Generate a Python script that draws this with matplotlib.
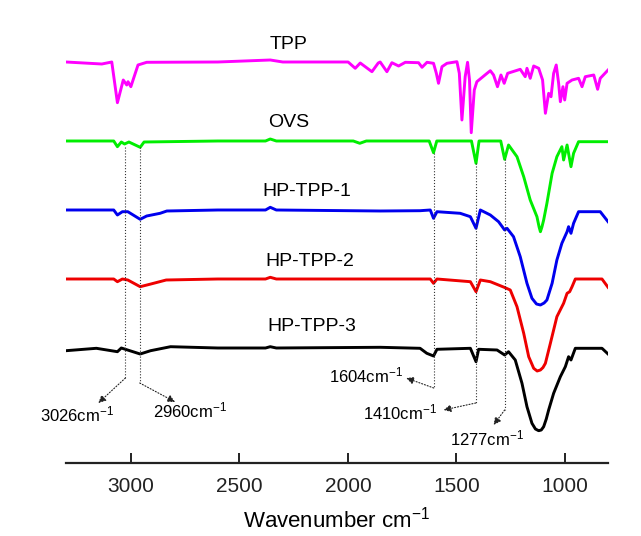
import numpy as np
import matplotlib.pyplot as plt

plt.rcParams['font.family'] = ['Liberation Sans', 'DejaVu Sans']
plt.rcParams['mathtext.fontset'] = 'custom'
plt.rcParams['mathtext.rm'] = 'Liberation Sans'
plt.rcParams['mathtext.it'] = 'Liberation Sans:italic'

# spectra (wavenumber, offset transmittance in a.u.)
tpp_w = [3300, 3135, 3089, 3063, 3036, 3020, 3014, 3001, 2968, 2928, 2600, 2358, 2300,
         1999, 1966, 1943, 1920, 1889, 1860, 1851, 1820, 1797, 1766, 1735, 1674, 1658,
         1635, 1605, 1592, 1582, 1566, 1543, 1497, 1486, 1474, 1459, 1448, 1439, 1431,
         1417, 1405, 1358, 1343, 1328, 1310, 1294, 1279, 1263, 1205, 1182, 1174, 1159,
         1143, 1120, 1102, 1089, 1074, 1063, 1051, 1039, 1028, 1020, 1008, 1000, 989,
         966, 936, 920, 905, 866, 848, 836, 800]
tpp_t = [401, 399, 401, 360.3, 383, 378, 381.3, 376.3, 398, 400.7, 401, 403, 401,
         401, 394.7, 400, 396.3, 391.3, 400, 401, 391.3, 400.3, 397, 400.7, 400.3, 395.7,
         400.7, 399.7, 389.7, 379.7, 396.3, 399.7, 401.3, 389.7, 343, 386.3, 400.7, 383, 330.3,
         373, 381.3, 389.7, 392.3, 388, 376.3, 388, 379.7, 389.7, 393.7, 386.3, 394.7, 384.7,
         397, 394.7, 383, 349.7, 369.7, 366.3, 389.7, 398, 379.7, 361.3, 376.3, 363, 379.7,
         383, 384.7, 376.3, 386.3, 388, 373.7, 384.7, 393]

ovs_w = [3300, 3080, 3063, 3045, 3030, 3010, 2958, 2940, 2600, 2380, 2358, 2330, 1975,
         1945, 1915, 1625, 1605, 1590, 1430, 1409, 1395, 1295, 1277, 1259, 1220, 1189,
         1159, 1128, 1118, 1112, 1105, 1097, 1082, 1058, 1036, 1013, 1005, 989, 971, 959,
         936, 800]
ovs_t = [322, 322, 316.3, 321, 319, 321, 315.7, 321, 322, 322, 324, 322, 322,
         319.7, 322, 322, 310.3, 322, 322, 299.7, 322, 322, 303.7, 318, 306.3, 286.3,
         263, 246.3, 236, 231.3, 236, 243, 259.7, 289.7, 306.3, 316.3, 303, 318, 296.3, 309.7,
         321.3, 321.3]

hp1_w = [3300, 3080, 3063, 3040, 3015, 2958, 2928, 2866, 2835, 2600, 2380, 2358, 2330,
         1850, 1667, 1620, 1605, 1589, 1482, 1435, 1409, 1389, 1343, 1305, 1277, 1266,
         1236, 1205, 1174, 1151, 1130, 1112, 1095, 1082, 1058, 1036, 1013, 989, 982, 971,
         959, 936, 836, 800]
hp1_t = [253, 253, 248, 251.3, 251.3, 243.7, 247, 249.7, 252, 253, 253, 255.7, 253,
         252, 252.3, 253, 244.7, 251.3, 249.7, 246.3, 234.7, 253, 248, 241.3, 233, 234.7,
         226.3, 206.3, 179.7, 164.7, 159, 158, 160, 163, 179.7, 203, 219.7, 231.3, 236.3, 229.7,
         239.7, 251.3, 251.3, 241.3]

hp2_w = [3300, 3080, 3063, 3040, 3015, 2958, 2914, 2838, 2600, 2380, 2358, 2330, 1620,
         1605, 1589, 1435, 1409, 1389, 1343, 1279, 1251, 1220, 1189, 1166, 1143, 1127,
         1112, 1100, 1089, 1066, 1036, 1005, 989, 977, 966, 951, 828, 800]
hp2_t = [184, 184, 181.3, 184, 183, 176.3, 178.7, 183, 184, 184, 185.7, 184, 184,
         179.7, 184, 181.3, 171.3, 183, 181.3, 175.7, 173, 156.3, 129.7, 106.3, 94.7, 92,
         93, 95.5, 99.7, 119.7, 146.3, 159.7, 169.7, 171.3, 176.3, 184, 184, 175.7]

hp3_w = [3300, 3160, 3063, 3045, 2958, 2910, 2818, 2600, 2380, 2358, 2330, 1850, 1667,
         1636, 1605, 1589, 1435, 1409, 1397, 1312, 1277, 1259, 1228, 1197, 1174, 1151,
         1135, 1120, 1108, 1097, 1085, 1074, 1051, 1020, 997, 982, 971, 951, 828, 800]
hp3_t = [112.3, 114.7, 111.3, 115, 109, 112.3, 116.3, 115, 115, 116.3, 115, 115.7, 114.7,
         109.7, 107, 113.7, 114.7, 101.3, 113.7, 113, 108, 111.3, 103, 79.7, 56.3, 39.7,
         34, 32.3, 33, 36.3, 44, 53, 69.7, 86.3, 96.3, 106.3, 103, 114.7, 114.7, 109]

names = ['TPP', 'OVS', 'HP-TPP-1', 'HP-TPP-2', 'HP-TPP-3']
colors = ['#ff00ff', '#00ee00', '#0000ee', '#ee0000', 'black']
name_x = [2275, 2275, 2188, 2174, 2167]
name_y = [418, 340, 271, 201, 136]

# marked bands: wavenumber, top/bottom of guide line, arrow tip, label position
peaks = [3026, 2960, 1604, 1410, 1277]
guide_top = [316, 316, 310, 300, 304]
guide_bot = [85, 80, 75, 60, 53]
tip_w = [3151, 2797, 1731, 1559, 1328]
tip_t = [60, 61, 85, 53, 38]
lab_w = [3249, 2728, 1915, 1759, 1357]
lab_t = [49, 53, 88, 51, 25]

fig = plt.figure(figsize=(6.41, 5.36), dpi=100)
ax = fig.add_axes([0.103, 0.1362, 0.8456, 0.8638])

spectra = [(tpp_w, tpp_t), (ovs_w, ovs_t), (hp1_w, hp1_t), (hp2_w, hp2_t), (hp3_w, hp3_t)]
for i in range(len(names)):
    w, t = spectra[i]
    ax.plot(w, t, color=colors[i], lw=2.1, solid_joinstyle='round')
    ax.text(name_x[i], name_y[i], names[i], fontsize=14, ha='center', va='center')

for i in range(len(peaks)):
    ax.plot([peaks[i], peaks[i]], [guide_top[i], guide_bot[i]], color='#333333', ls=':', lw=0.8)
    ax.annotate('', xy=(tip_w[i], tip_t[i]), xytext=(peaks[i], guide_bot[i]),
                arrowprops=dict(arrowstyle='-|>', color='#222222', lw=0.8, ls=':',
                                mutation_scale=11, shrinkA=0, shrinkB=0))
    ax.text(lab_w[i], lab_t[i], f'{peaks[i]}cm$^{{\\mathregular{{-1}}}}$', fontsize=12,
            ha='center', va='center')

ax.set_xlim(3300, 800)
ax.set_ylim(0, 463)
ax.set_xticks([3000, 2500, 2000, 1500, 1000])
ax.set_yticks([])
for s in ['top', 'left', 'right']:
    ax.spines[s].set_visible(False)
ax.spines['bottom'].set_linewidth(1.6)
ax.spines['bottom'].set_color('#222222')
ax.tick_params(axis='x', direction='in', length=7, width=1.4, labelsize=15, pad=10, colors='#222222')
ax.set_xlabel('Wavenumber cm$^{\\mathregular{-1}}$', fontsize=16, labelpad=8)
ax.patch.set_alpha(0)

plt.savefig('out.png', dpi=100)
